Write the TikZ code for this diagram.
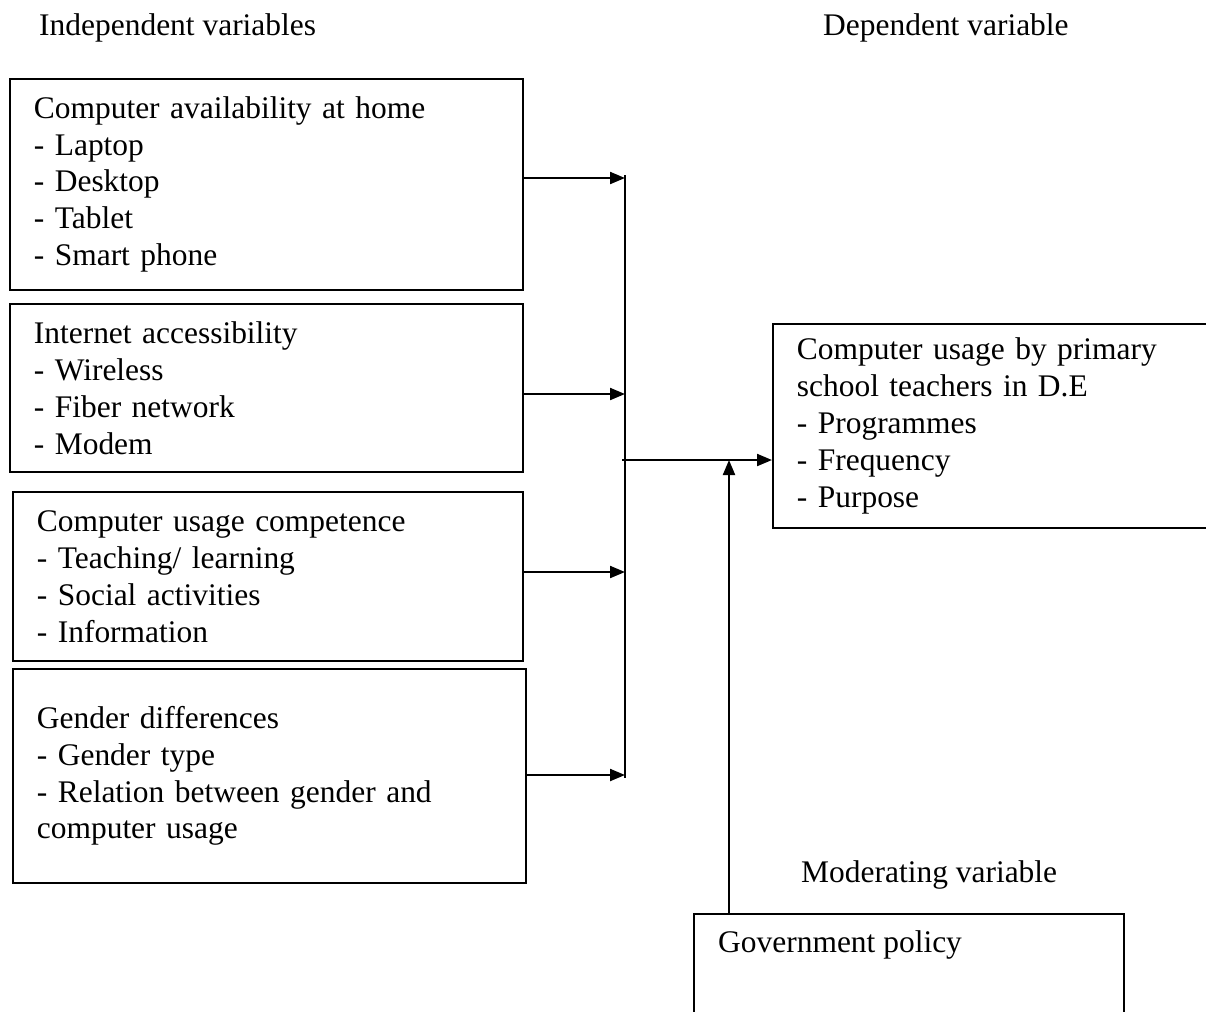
\documentclass[tikz,border=0pt]{standalone}
\usepackage{fontspec}
\setmainfont{Liberation Serif}
\usetikzlibrary{arrows.meta}
\begin{document}
\begin{tikzpicture}[
    varbox/.style={draw=black, line width=1pt, anchor=north west, align=left, inner xsep=0.48cm, inner ysep=0pt},
    arr/.style={-{Triangle[length=0.3cm,width=0.24cm]}, line width=1.2pt},
    font=\fontsize{17.9}{21}\selectfont]
  \clip (0,0) rectangle (24.12,-20.22);

  \node[anchor=base west] (IV) at (0.66,-0.70) {Independent variables};
  \node[anchor=base west] (DVT) at (16.34,-0.70) {Dependent variable};
  \node[anchor=base west] (MV) at (15.90,-17.64) {Moderating variable};

  \node[varbox, text width=9.30cm, minimum height=4.22cm] (B1) at (0.18,-1.56)
    {Computer availability at home\\- Laptop\\- Desktop\\- Tablet\\- Smart phone};
  \node[varbox, text width=9.30cm, minimum height=3.36cm] (B2) at (0.18,-6.06)
    {Internet accessibility\\- Wireless\\- Fiber network\\- Modem};
  \node[varbox, text width=9.24cm, minimum height=3.38cm] (B3) at (0.24,-9.82)
    {Computer usage competence\\- Teaching/ learning\\- Social activities\\- Information};
  \node[varbox, text width=9.30cm, minimum height=4.28cm] (B4) at (0.24,-13.36)
    {Gender differences\\- Gender type\\- Relation between gender and\\computer usage};

  \node[varbox, text width=8.10cm, minimum height=4.08cm] (DV) at (15.44,-6.46)
    {Computer usage by primary\\school teachers in D.E\\- Programmes\\- Frequency\\- Purpose};

  \node[draw=black, line width=1pt, anchor=north west, minimum width=8.60cm, minimum height=2.5cm] (GP) at (13.86,-18.26) {};
  \node[anchor=base west] (GPT) at (14.24,-19.04) {Government policy};

  % junction bar
  \coordinate (J1) at (12.50,-3.56);
  \coordinate (J2) at (12.50,-7.88);
  \coordinate (J3) at (12.50,-11.44);
  \coordinate (J4) at (12.50,-15.50);
  \coordinate (Jtop) at (12.50,-3.50);
  \coordinate (Jbot) at (12.50,-15.56);
  \coordinate (H) at (12.44,-9.20);
  \coordinate (M) at (14.58,-9.20);

  \draw[line width=1pt] (Jtop) -- (Jbot);

  \draw[arr] (B1.east |- J1) -- (J1);
  \draw[arr] (B2.east |- J2) -- (J2);
  \draw[arr] (B3.east |- J3) -- (J3);
  \draw[arr] (B4.east |- J4) -- (J4);

  \draw[arr] (H) -- (DV.west |- H);
  \draw[arr] (GP.north -| M) -- (M);
\end{tikzpicture}
\end{document}
